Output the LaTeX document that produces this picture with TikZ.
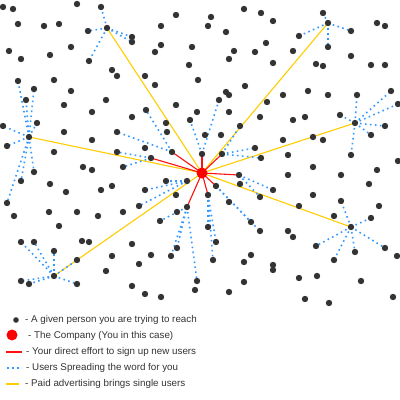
\documentclass[tikz,border=0pt]{standalone}
\usepackage{fontspec}
\setmainfont{Liberation Sans}
\usetikzlibrary{backgrounds}
\definecolor{dotgray}{HTML}{333333}
\definecolor{spread}{HTML}{3399FF}
\definecolor{paid}{HTML}{FFCC00}
\definecolor{direct}{HTML}{FF1111}
\tikzset{
  person/.style={circle,fill=dotgray,draw=none,inner sep=0pt,minimum size=6.4pt},
  company/.style={circle,fill=red,draw=none,inner sep=0pt,minimum size=11pt},
  spreadline/.style={draw=spread,line width=1.6pt,dash pattern=on 1.6pt off 3.4pt},
  directline/.style={draw=direct,line width=1.1pt},
  paidline/.style={draw=paid,line width=1.1pt},
  legendtext/.style={anchor=west,inner sep=0pt,text=dotgray,font=\fontsize{9.8}{12}\selectfont}
}
\begin{document}
\begin{tikzpicture}[x=1pt,y=-1pt]
\useasboundingbox (0,0) rectangle (400,400);
% company and hubs
\node[company] (co) at (202,173) {};
\node[person] (h1) at (107,28) {};
\node[person] (h2) at (328,23) {};
\node[person] (h3) at (29,137) {};
\node[person] (h4) at (355,123) {};
\node[person] (h5) at (54,276) {};
\node[person] (h6) at (351,227) {};
% people
\foreach \x/\y in {3/7,13/9,77/4,101/7,18/24,44/26,59/24,88/31,132/37,132/42,9/51,21/59,50/55,71/47,89/61,112/70,117/76,18/81,54/80,34/89,71/91,26/100,64/105,106/100,
176/15,211/17,244/9,261/13,161/26,208/26,226/32,161/45,155/52,192/47,266/43,234/51,255/52,229/59,189/65,145/76,198/80,155/85,226/92,229/95,219/100,245/86,176/105,267/102,
323/13,273/21,299/36,351/31,377/23,385/26,293/51,328/47,273/63,351/56,316/64,323/66,371/65,385/65,308/91,283/95,328/95,357/95,391/91,398/104,
92/112,132/117,3/126,37/123,7/146,64/132,92/140,117/132,54/152,117/152,83/167,92/170,123/167,34/172,21/181,50/184,66/192,101/190,112/186,7/203,
146/110,197/112,229/112,260/117,190/120,166/123,240/126,167/132,205/135,221/135,145/148,255/148,261/158,172/152,151/158,202/154,222/154,239/175,216/186,208/195,187/207,187/181,166/181,240/184,145/190,176/195,229/202,260/197,139/206,
293/120,305/117,340/115,385/126,371/135,283/140,313/137,323/140,288/155,351/155,398/161,313/167,377/170,288/175,341/175,369/184,273/190,313/195,341/201,299/206,379/206,
14/216,49/212,77/212,98/216,123/212,59/226,21/242,34/242,82/241,89/242,132/244,54/251,112/256,77/260,106/271,21/281,29/284,77/284,132/286,
177/212,160/221,208/227,216/242,251/222,260/231,177/248,171/256,151/255,139/264,213/260,251/255,244/262,244/282,197/281,195/290,229/292,145/294,161/297,
334/216,371/218,288/231,293/237,316/246,385/248,355/252,397/256,334/260,273/265,273/270,299/278,317/276,361/281,305/299,329/303,393/297}
  \node[person] (n\x x\y) at (\x,\y) {};
\begin{scope}[on background layer]
% paid advertising
\foreach \h in {h1,h2,h3,h4,h5,h6} \draw[paidline] (co.center) -- (\h.center);
% direct effort
\foreach \t in {172x152,151x158,202x154,222x154,239x175,216x186,208x195,187x207}
  \draw[directline] (co.center) -- (n\t.center);
% spreading the word
\foreach \s/\t in {h1/101x7,h1/88x31,h1/89x61,h1/132x37,h1/132x42,
  h2/323x13,h2/299x36,h2/351x31,h2/328x47,
  h3/18x81,h3/34x89,h3/26x100,h3/37x123,h3/3x126,h3/7x146,h3/34x172,h3/21x181,h3/7x203,
  h4/357x95,h4/391x91,h4/398x104,h4/340x115,h4/385x126,h4/371x135,h4/351x155,
  h5/21x242,h5/34x242,h5/54x251,h5/77x260,h5/21x281,h5/29x284,h5/77x284,
  h6/341x201,h6/371x218,h6/385x248,h6/355x252,h6/334x260,h6/316x246}
  \draw[spreadline] (\s.center) -- (n\t.center);
\foreach \s/\t in {172x152/117x132,172x152/146x110,151x158/117x152,151x158/123x167,
  202x154/190x120,202x154/219x100,222x154/240x126,222x154/255x148,222x154/261x158,
  239x175/260x197,239x175/273x190,216x186/251x222,216x186/260x231,
  208x195/208x227,208x195/216x242,208x195/213x260,
  187x207/160x221,187x207/177x248,187x207/171x256,187x207/197x281,
  187x181/166x181,187x181/145x190,187x181/139x206}
  \draw[spreadline] (n\s.center) -- (n\t.center);
\end{scope}
% legend
\node[person,minimum size=5.6pt] (lgdot) at (16,320) {};
\node[legendtext] (lt1) at (25,320) {- A given person you are trying to reach};
\node[company] (lgco) at (12,335) {};
\node[legendtext] (lt2) at (28,336) {- The Company (You in this case)};
\coordinate (lr1) at (6,352); \coordinate (lr2) at (22,352);
\draw[directline] (lr1) -- (lr2);
\node[legendtext] (lt3) at (26,352) {- Your direct effort to sign up new users};
\coordinate (lb1) at (7,368); \coordinate (lb2) at (22,368);
\draw[spreadline] (lb1) -- (lb2);
\node[legendtext] (lt4) at (26,368) {- Users Spreading the word for you};
\coordinate (ly1) at (6,384); \coordinate (ly2) at (19,384);
\draw[paidline] (ly1) -- (ly2);
\node[legendtext] (lt5) at (25,384) {- Paid advertising brings single users};
\end{tikzpicture}
\end{document}
